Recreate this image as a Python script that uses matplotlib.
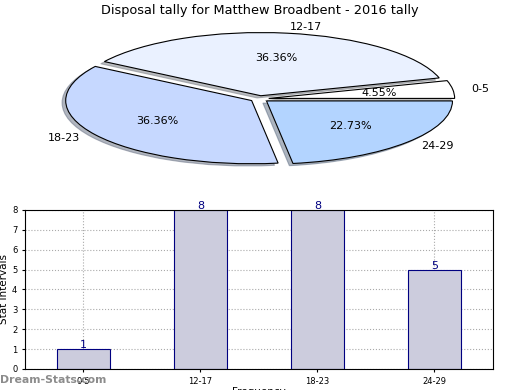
import matplotlib
matplotlib.use("Agg")
import matplotlib.pyplot as plt

categories = ["0-5", "12-17", "18-23", "24-29"]
values = [1, 8, 8, 5]
pie_colors = ["#ffffff", "#eaf1ff", "#c6d8ff", "#b3d4ff"]
title = "Disposal tally for Matthew Broadbent - 2016 tally"

fig = plt.figure(figsize=(5.2, 3.9), dpi=100)

# Pie
axp = fig.add_axes([0.052, 0.544, 0.894, 0.405])
wedges, texts, autotexts = axp.pie(
    values, labels=categories, colors=pie_colors, autopct="%.2f%%",
    explode=[0.05] * len(values),
    shadow={"ox": -0.014, "oy": -0.025, "shade": 0.5}, startangle=0,
    wedgeprops=dict(edgecolor="black", linewidth=0.8),
    textprops=dict(fontsize=8), pctdistance=0.6, labeldistance=1.1)
axp.set_aspect("auto")
axp.set_xlim(-1.25, 1.25)
axp.set_ylim(-1.25, 1.25)
fig.text(0.5, 0.974, title, ha="center", va="center", fontsize=9.3)

# Bars
axb = fig.add_axes([0.048, 0.054, 0.900, 0.4077])
x = list(range(len(categories)))
axb.bar(x, values, width=0.45, color="#ccccdd", edgecolor="#000080", linewidth=0.8, zorder=2)
for xi, v in zip(x, values):
    axb.text(xi, v - 0.05, str(v), ha="center", va="bottom", color="#000080", fontsize=8, zorder=3)
axb.set_xlim(-0.5, 3.5)
axb.set_ylim(0, 8)
axb.set_xticks(x)
axb.set_xticklabels(categories)
axb.set_yticks(range(0, 9))
axb.tick_params(labelsize=6, length=2)
axb.grid(True, linestyle=":", color="#aaaaaa", linewidth=0.8, zorder=0)
axb.set_axisbelow(True)
axb.set_ylabel("Stat Intervals", fontsize=7.5)
axb.yaxis.set_label_coords(-0.035, 0.5)
axb.set_xlabel("Frequency", fontsize=7.5, labelpad=1)

fig.text(0.0, 0.025, "Dream-Stats.com", ha="left", va="center", fontsize=7.8,
         color="#8c8c8c", fontweight="bold")

fig.savefig("out.png", dpi=100)
